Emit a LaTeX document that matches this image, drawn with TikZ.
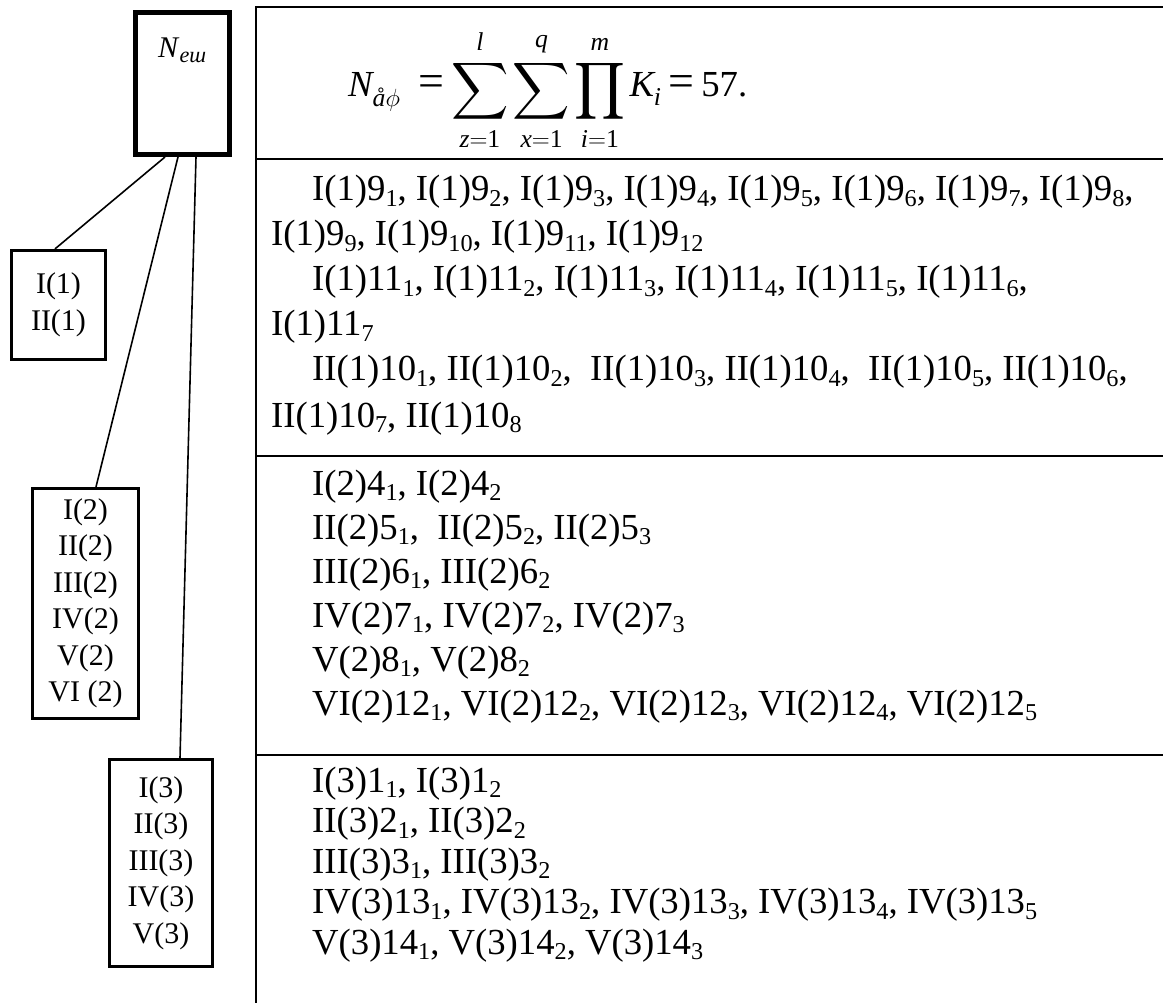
\documentclass[tikz,border=0pt]{standalone}
\usepackage{amsmath}
\usepackage{graphicx}
\usepackage{fontspec}
\setmainfont{Liberation Serif}
\newcommand\lsb[1]{\raisebox{-0.16em}{\scalebox{0.66}{#1}}}
\newcommand\mti[1]{\text{\itshape #1}}
\newcommand\mtu[1]{\text{#1}}
\newcommand\bigop[1]{\mathop{\vcenter{\vbox{\kern4pt\hbox{\scalebox{1.6}{$\displaystyle#1$}}\kern3pt}}}\limits}
\newcommand\meq{\mathrel{\text{\scalebox{1.25}{=}}}}
\tikzset{
 tline/.style={line width=2.4pt},
 bx/.style={draw, line width=3.2pt, align=center, inner sep=0pt, font=\fontsize{30}{36.5}\selectfont},
 row/.style={anchor=base west, inner sep=0pt, font=\fontsize{36.7}{49}\selectfont},
 conn/.style={line width=1.6pt},
}
\begin{document}
\begin{tikzpicture}[x=1pt,y=-1pt]
\useasboundingbox (0,0) rectangle (1163,1003);
% left tree
\node[bx, line width=5pt, minimum width=94pt, minimum height=142pt] (nb) at (182.5,83.5) {};
\node[anchor=base west, inner sep=0pt, font=\fontsize{30}{36}\selectfont] (nlab) at (158,58) {\textit{N}\raisebox{-0.16em}{\scalebox{0.74}{\textit{еш}}}};
\node[bx, minimum width=94pt, minimum height=109pt] (b1) at (58.5,305) {I(1)\\II(1)};
\node[bx, minimum width=106pt, minimum height=230pt] (b2) at (85.5,603.5) {I(2)\\II(2)\\III(2)\\IV(2)\\V(2)\\VI (2)};
\node[bx, minimum width=103pt, minimum height=207pt] (b3) at (161,863) {I(3)\\II(3)\\III(3)\\IV(3)\\V(3)};
\draw[conn] ([xshift=-17.5pt]nb.south) -- ([xshift=-3.5pt]b1.north);
\draw[conn] ([xshift=-4.5pt]nb.south) -- ([xshift=10.5pt]b2.north);
\draw[conn] ([xshift=13.5pt]nb.south) -- ([xshift=19pt]b3.north);
% table
\draw[tline] (256,1003) -- (256,7) -- (1163,7);
\draw[tline] (256,159) -- (1163,159);
\draw[tline] (256,456) -- (1163,456);
\draw[tline] (256,755) -- (1163,755);
% formula
\node[anchor=base west, inner sep=0pt, font=\fontsize{36.7}{44}\selectfont] (fm) at (348,97)
 {$\mti{N}_{\mti{å}\phi}\;\,\meq\bigop{\sum}_{\mti{z}=\mtu{1}}^{\mti{l}}\bigop{\sum}_{\mti{x}=\mtu{1}}^{\mti{q}}\bigop{\prod}_{\mti{i}=\mtu{1}}^{\mti{m}}\mti{K}_{\mti{i}}\meq\mtu{57.}$};
% section 1
\node[row] (r11) at (312,201) {I(1)9\lsb{1}, I(1)9\lsb{2}, I(1)9\lsb{3}, I(1)9\lsb{4}, I(1)9\lsb{5}, I(1)9\lsb{6}, I(1)9\lsb{7}, I(1)9\lsb{8},};
\node[row] (r12) at (271,246) {I(1)9\lsb{9}, I(1)9\lsb{10}, I(1)9\lsb{11}, I(1)9\lsb{12}};
\node[row] (r13) at (312,291) {I(1)11\lsb{1}, I(1)11\lsb{2}, I(1)11\lsb{3}, I(1)11\lsb{4}, I(1)11\lsb{5}, I(1)11\lsb{6},};
\node[row] (r14) at (271,336) {I(1)11\lsb{7}};
\node[row] (r15) at (312,381) {II(1)10\lsb{1}, II(1)10\lsb{2}, \ II(1)10\lsb{3}, II(1)10\lsb{4}, \ II(1)10\lsb{5}, II(1)10\lsb{6},};
\node[row] (r16) at (271,427) {II(1)10\lsb{7}, II(1)10\lsb{8}};
% section 2
\node[row] (r21) at (312,495) {I(2)4\lsb{1}, I(2)4\lsb{2}};
\node[row] (r22) at (312,539) {II(2)5\lsb{1}, \ II(2)5\lsb{2}, II(2)5\lsb{3}};
\node[row] (r23) at (312,583) {III(2)6\lsb{1}, III(2)6\lsb{2}};
\node[row] (r24) at (312,627) {IV(2)7\lsb{1}, IV(2)7\lsb{2}, IV(2)7\lsb{3}};
\node[row] (r25) at (312,671) {V(2)8\lsb{1}, V(2)8\lsb{2}};
\node[row] (r26) at (312,715) {VI(2)12\lsb{1}, VI(2)12\lsb{2}, VI(2)12\lsb{3}, VI(2)12\lsb{4}, VI(2)12\lsb{5}};
% section 3
\node[row] (r31) at (312,792) {I(3)1\lsb{1}, I(3)1\lsb{2}};
\node[row] (r32) at (312,832.5) {II(3)2\lsb{1}, II(3)2\lsb{2}};
\node[row] (r33) at (312,873) {III(3)3\lsb{1}, III(3)3\lsb{2}};
\node[row] (r34) at (312,913.5) {IV(3)13\lsb{1}, IV(3)13\lsb{2}, IV(3)13\lsb{3}, IV(3)13\lsb{4}, IV(3)13\lsb{5}};
\node[row] (r35) at (312,954) {V(3)14\lsb{1}, V(3)14\lsb{2}, V(3)14\lsb{3}};
\end{tikzpicture}
\end{document}
